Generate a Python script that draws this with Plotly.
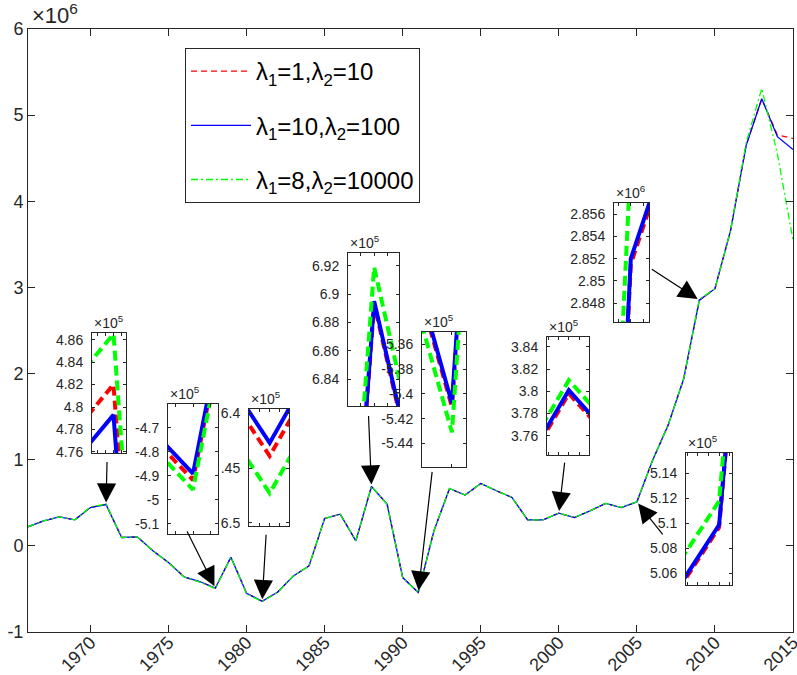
import plotly.graph_objects as go

# ---------------- data ----------------
years = list(range(1966, 2016))

blue = [221000, 290000, 337000, 302000, 445000, 479300, 97000, 105000, -58000, -194000,
        -360000, -414000, -489000, -131000, -550000, -642700, -535000, -349000, -233000, 318000,
        368000, 58000, 689500, 485000, -368000, -540750, 174000, 666000, 590000, 724000,
        640000, 562000, 302000, 302000, 380100, 329000, 407000, 492000, 445000, 509860,
        990000, 1400000, 1940000, 2852000, 2985000, 3660000, 4650000, 5190000, 4750000, 4600000]

red = [221000, 290000, 337000, 302000, 447700, 482000, 97000, 105000, -58000, -194000,
       -360000, -417000, -491700, -131000, -551300, -643900, -536200, -349000, -233000, 318000,
       368000, 58000, 689300, 485000, -368300, -541050, 174000, 666000, 590000, 724000,
       640000, 562000, 302000, 301700, 379800, 328700, 407000, 492000, 444800, 509660,
       990000, 1400000, 1940000, 2851500, 2985000, 3660000, 4650000, 5190000, 4770000, 4730000]

green = [221000, 290000, 337000, 302000, 452200, 486500, 97000, 105000, -58000, -194000,
         -360000, -420700, -495700, -131000, -554600, -647300, -539600, -349000, -233000, 318000,
         368000, 60400, 691900, 483000, -370350, -543100, 174000, 666000, 590000, 724000,
         640000, 562000, 302000, 302900, 381000, 329900, 407000, 492000, 446900, 511760,
         990000, 1400000, 1940000, 2861000, 2985000, 3660000, 4680000, 5310000, 4550000, 3550000]

series_names = ["λ<sub>1</sub>=1,λ<sub>2</sub>=10",
                "λ<sub>1</sub>=10,λ<sub>2</sub>=100",
                "λ<sub>1</sub>=8,λ<sub>2</sub>=10000"]

main_yticks = [-1e6, 0, 1e6, 2e6, 3e6, 4e6, 5e6, 6e6]
main_yticktext = ["-1", "0", "1", "2", "3", "4", "5", "6"]
main_xticks = [1970, 1975, 1980, 1985, 1990, 1995, 2000, 2005, 2010, 2015]

# zoomed views: focus year, x window, y window, y tick values/labels, exponent
insets = [
    dict(year=1971, xr=[1970.933, 1971.039], yr=[475900, 486600],
         yt=[476000, 478000, 480000, 482000, 484000, 486000],
         ytt=["4.76", "4.78", "4.8", "4.82", "4.84", "4.86"], exp="5", dt=0.025),
    dict(year=1978, xr=[1977.853, 1978.147], yr=[-514200, -460000],
         yt=[-510000, -500000, -490000, -480000, -470000],
         ytt=["-5.1", "-5", "-4.9", "-4.8", "-4.7"], exp="5", dt=0.1),
    dict(year=1981, xr=[1980.969, 1981.029], yr=[-650300, -639600],
         yt=[-650000, -645000, -640000],
         ytt=["6.5", ".45", "6.4"], exp="5", dt=0.015),
    dict(year=1988, xr=[1987.9607, 1988.0373], yr=[682100, 692900],
         yt=[684000, 686000, 688000, 690000, 692000],
         ytt=["6.84", "6.86", "6.88", "6.9", "6.92"], exp="5", dt=0.02),
    dict(year=1991, xr=[1990.95, 1991.0235], yr=[-545900, -535000],
         yt=[-544000, -542000, -540000, -538000, -536000],
         ytt=["-5.44", "-5.42", "-5.4", "-5.38", "-5.36"], exp="5", dt=0.05),
    dict(year=2000, xr=[1999.957, 2000.0397], yr=[374250, 384900],
         yt=[376000, 378000, 380000, 382000, 384000],
         ytt=["3.76", "3.78", "3.8", "3.82", "3.84"], exp="5", dt=0.02),
    dict(year=2009, xr=[2008.966, 2009.0368], yr=[2846300, 2857000],
         yt=[2848000, 2850000, 2852000, 2854000, 2856000],
         ytt=["2.848", "2.85", "2.852", "2.854", "2.856"], exp="6", dt=0.025),
    dict(year=2005, xr=[2004.9374, 2005.0244], yr=[505060, 515600],
         yt=[506000, 508000, 510000, 512000, 514000],
         ytt=["5.06", "5.08", "5.1", "5.12", "5.14"], exp="5", dt=0.02),
]

# ---------------- layout geometry (pixels) ----------------
W, H = 797, 675
ML, MR, MT, MB = 28, 4, 29, 43
PW, PH = W - ML - MR, H - MT - MB

def px_x(px):
    return (px - ML) / PW

def px_y(py):
    return (H - MB - py) / PH

# inset boxes: (left, top, right, bottom) in pixels; arrow tail offsets (ax, ay)
inset_boxes = [(92, 333, 126, 453), (168, 404, 218, 534), (249, 409, 289, 526),
               (348, 253, 399, 406), (422, 332, 466, 467), (547, 337, 589, 455),
               (614, 203, 649, 322), (686, 453, 732, 585)]
arrow_tails = [(1, -44), (-29, -58), (4, -68), (-3, -72), (14, -122), (6, -52), (-49, -32), (27, 34)]

FONT = "Liberation Sans, Arial, sans-serif"
AX = "#262626"
colors = ["#ff0000", "#0000ff", "#00ff00"]
main_dash = ["6px,4px", "solid", "7px,3px,2px,3px"]
inset_dash = ["9px,5px", "solid", "10px,5px"]
data_sets = [red, blue, green]

fig = go.Figure()

for k in range(3):
    fig.add_trace(go.Scatter(x=years, y=data_sets[k], mode="lines", name=series_names[k],
                             legendgroup=f"g{k}",
                             line=dict(color=colors[k], width=1.3, dash=main_dash[k])))

layout = dict(
    width=W, height=H,
    margin=dict(l=ML, r=MR, t=MT, b=MB, pad=0),
    paper_bgcolor="white", plot_bgcolor="white",
    font=dict(family=FONT, color=AX),
    xaxis=dict(domain=[0, 1], range=[1966, 2015], tickvals=main_xticks, tickangle=-45,
               ticks="inside", ticklen=7, tickcolor=AX, showline=True, linecolor=AX,
               linewidth=1, mirror="ticks", showgrid=False, zeroline=False,
               ticklabeloverflow="allow", ticklabelstandoff=-8,
               tickfont=dict(size=18, family=FONT, color=AX), automargin=False),
    yaxis=dict(domain=[0, 1], range=[-1e6, 6e6], tickvals=main_yticks, ticktext=main_yticktext,
               ticks="inside", ticklen=7, tickcolor=AX, showline=True, linecolor=AX,
               linewidth=1, mirror="ticks", showgrid=False, zeroline=False,
               ticklabeloverflow="allow",
               tickfont=dict(size=18, family=FONT, color=AX), automargin=False),
    legend=dict(x=px_x(185), y=px_y(48), xanchor="left", yanchor="top",
                bgcolor="white", bordercolor=AX, borderwidth=1,
                font=dict(size=24, family=FONT, color="black"),
                traceorder="grouped", tracegroupgap=20, itemwidth=60),
    showlegend=True,
)

annotations = [dict(x=px_x(30), y=px_y(30), xref="paper", yref="paper", xanchor="left",
                    yanchor="bottom", text="×10<sup>6</sup>", showarrow=False,
                    font=dict(size=22, family=FONT, color=AX))]

for i, (ins, box, tail) in enumerate(zip(insets, inset_boxes, arrow_tails), start=2):
    l, t, r, b = box
    xa, ya = f"xaxis{i}", f"yaxis{i}"
    n = int(round((ins["xr"][1] - ins["xr"][0]) / ins["dt"])) + 2
    start = ins["year"] - ins["dt"] * int((ins["year"] - ins["xr"][0]) / ins["dt"] + 1)
    xt = [start + j * ins["dt"] for j in range(n + 2)]
    layout[xa] = dict(domain=[px_x(l), px_x(r)], range=ins["xr"], anchor=f"y{i}",
                      tickvals=xt, showticklabels=False, ticks="inside", ticklen=3,
                      tickcolor=AX, showline=True, linecolor=AX, linewidth=1, mirror="ticks",
                      showgrid=False, zeroline=False)
    layout[ya] = dict(domain=[px_y(b), px_y(t)], range=ins["yr"], anchor=f"x{i}",
                      tickvals=ins["yt"], ticktext=ins["ytt"], ticks="inside", ticklen=3,
                      tickcolor=AX, showline=True, linecolor=AX, linewidth=1, mirror="ticks",
                      showgrid=False, zeroline=False, ticklabelstandoff=5,
                      tickfont=dict(size=14, family=FONT, color=AX))
    for k in range(3):
        fig.add_trace(go.Scatter(x=years, y=data_sets[k], mode="lines", showlegend=False,
                                 xaxis=f"x{i}", yaxis=f"y{i}", cliponaxis=True,
                                 line=dict(color=colors[k], width=4, dash=inset_dash[k])))
    annotations.append(dict(x=px_x(l), y=px_y(t), xref="paper", yref="paper",
                            xanchor="left", yanchor="bottom",
                            text=f"×10<sup>{ins['exp']}</sup>", showarrow=False,
                            font=dict(size=14, family=FONT, color=AX)))
    yi = years.index(ins["year"])
    annotations.append(dict(x=ins["year"], y=blue[yi], xref="x", yref="y",
                            ax=tail[0], ay=tail[1], axref="pixel", ayref="pixel",
                            showarrow=True, arrowhead=2, arrowsize=3.2, arrowwidth=1.2,
                            arrowcolor="black", standoff=2, text=""))

layout["annotations"] = annotations
fig.update_layout(**layout)
fig.write_html("out.html")
